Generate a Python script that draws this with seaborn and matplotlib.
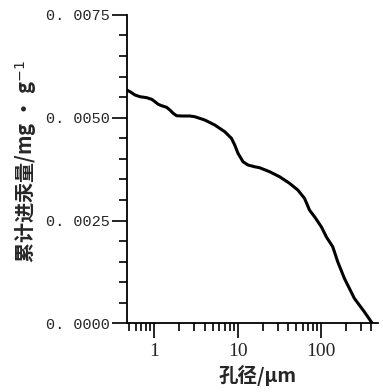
import numpy as np
import pandas as pd
import matplotlib
matplotlib.use('Agg')
import matplotlib.pyplot as plt
import matplotlib.ticker as mticker
import seaborn as sns

# ---------- DATA ----------
pore_size = [0.468, 0.5124, 0.5879, 0.6749, 0.8113, 0.9308, 1.0195, 1.1163, 1.2256,
             1.4067, 1.540, 1.6866, 1.8518, 2.1255, 2.670, 3.064, 4.035, 5.312,
             6.994, 8.410, 9.209, 10.08, 11.57, 13.28, 15.97, 18.32, 24.12, 31.76,
             41.81, 52.54, 63.17, 72.48, 85.5, 100.8, 115.7, 137.6, 157.9, 189.8,
             249.9, 329.1, 410.2]
intrusion = [0.005674, 0.005632, 0.005552, 0.005511, 0.005487, 0.005448, 0.005389,
             0.005326, 0.005292, 0.005253, 0.005187, 0.005107, 0.005049, 0.005042,
             0.005042, 0.005024, 0.004944, 0.004823, 0.004660, 0.004499, 0.004336,
             0.004134, 0.003930, 0.003850, 0.003808, 0.003784, 0.003687, 0.003565,
             0.003405, 0.003242, 0.003040, 0.002755, 0.002561, 0.002342, 0.002099,
             0.001863, 0.001498, 0.001094, 0.000608, 0.000282, 0.0]
y_ticks = [0.0, 0.0025, 0.0050, 0.0075]
y_tick_labels = ['0. 0000', '0. 0025', '0. 0050', '0. 0075']
x_ticks = [1, 10, 100]
x_tick_labels = ['1', '10', '100']

df = pd.DataFrame({'pore': pore_size, 'hg': intrusion})

# ---------- STYLE ----------
sns.set_style('ticks')
plt.rcParams['font.family'] = ['Noto Sans CJK SC', 'DejaVu Sans']

fig = plt.figure(figsize=(3.83, 3.92), dpi=100)
ax = fig.add_axes([0.331, 0.175, 0.656, 0.787])

sns.lineplot(data=df, x='pore', y='hg', color='black', linewidth=2.2, ax=ax)
for ln in ax.get_lines():
    ln.set_solid_joinstyle('round')
    ln.set_solid_capstyle('round')

ax.set_xscale('log')
ax.set_xlim(0.468, 480)
ax.set_ylim(0, 0.0075)

ax.set_xticks(x_ticks)
ax.set_xticklabels(x_tick_labels, family='Liberation Serif', fontsize=14)
ax.xaxis.set_minor_locator(mticker.LogLocator(base=10, subs=np.arange(2, 10), numticks=20))
ax.xaxis.set_minor_formatter(mticker.NullFormatter())

ax.set_yticks(y_ticks)
ax.set_yticklabels(y_tick_labels, family='Liberation Mono', fontsize=11)
ax.yaxis.set_minor_locator(mticker.MultipleLocator(0.0005))

ax.tick_params(axis='both', which='major', direction='out', length=11, width=1.2, color='black')
ax.tick_params(axis='both', which='minor', direction='out', length=6, width=1.2, color='black')
ax.tick_params(axis='x', pad=3)
ax.tick_params(axis='y', pad=1)

sns.despine(ax=ax)
for s in ['left', 'bottom']:
    ax.spines[s].set_linewidth(1.3)
    ax.spines[s].set_color('black')

ax.set_xlabel('孔径/μm', fontsize=14, fontweight='bold')
ax.set_ylabel('累计进汞量/mg · g$^{-1}$', fontsize=14.5, fontweight='bold')
ax.xaxis.set_label_coords(0.52, -0.135)
ax.yaxis.set_label_coords(-0.35, 0.526)

fig.savefig('out.png', dpi=100)
